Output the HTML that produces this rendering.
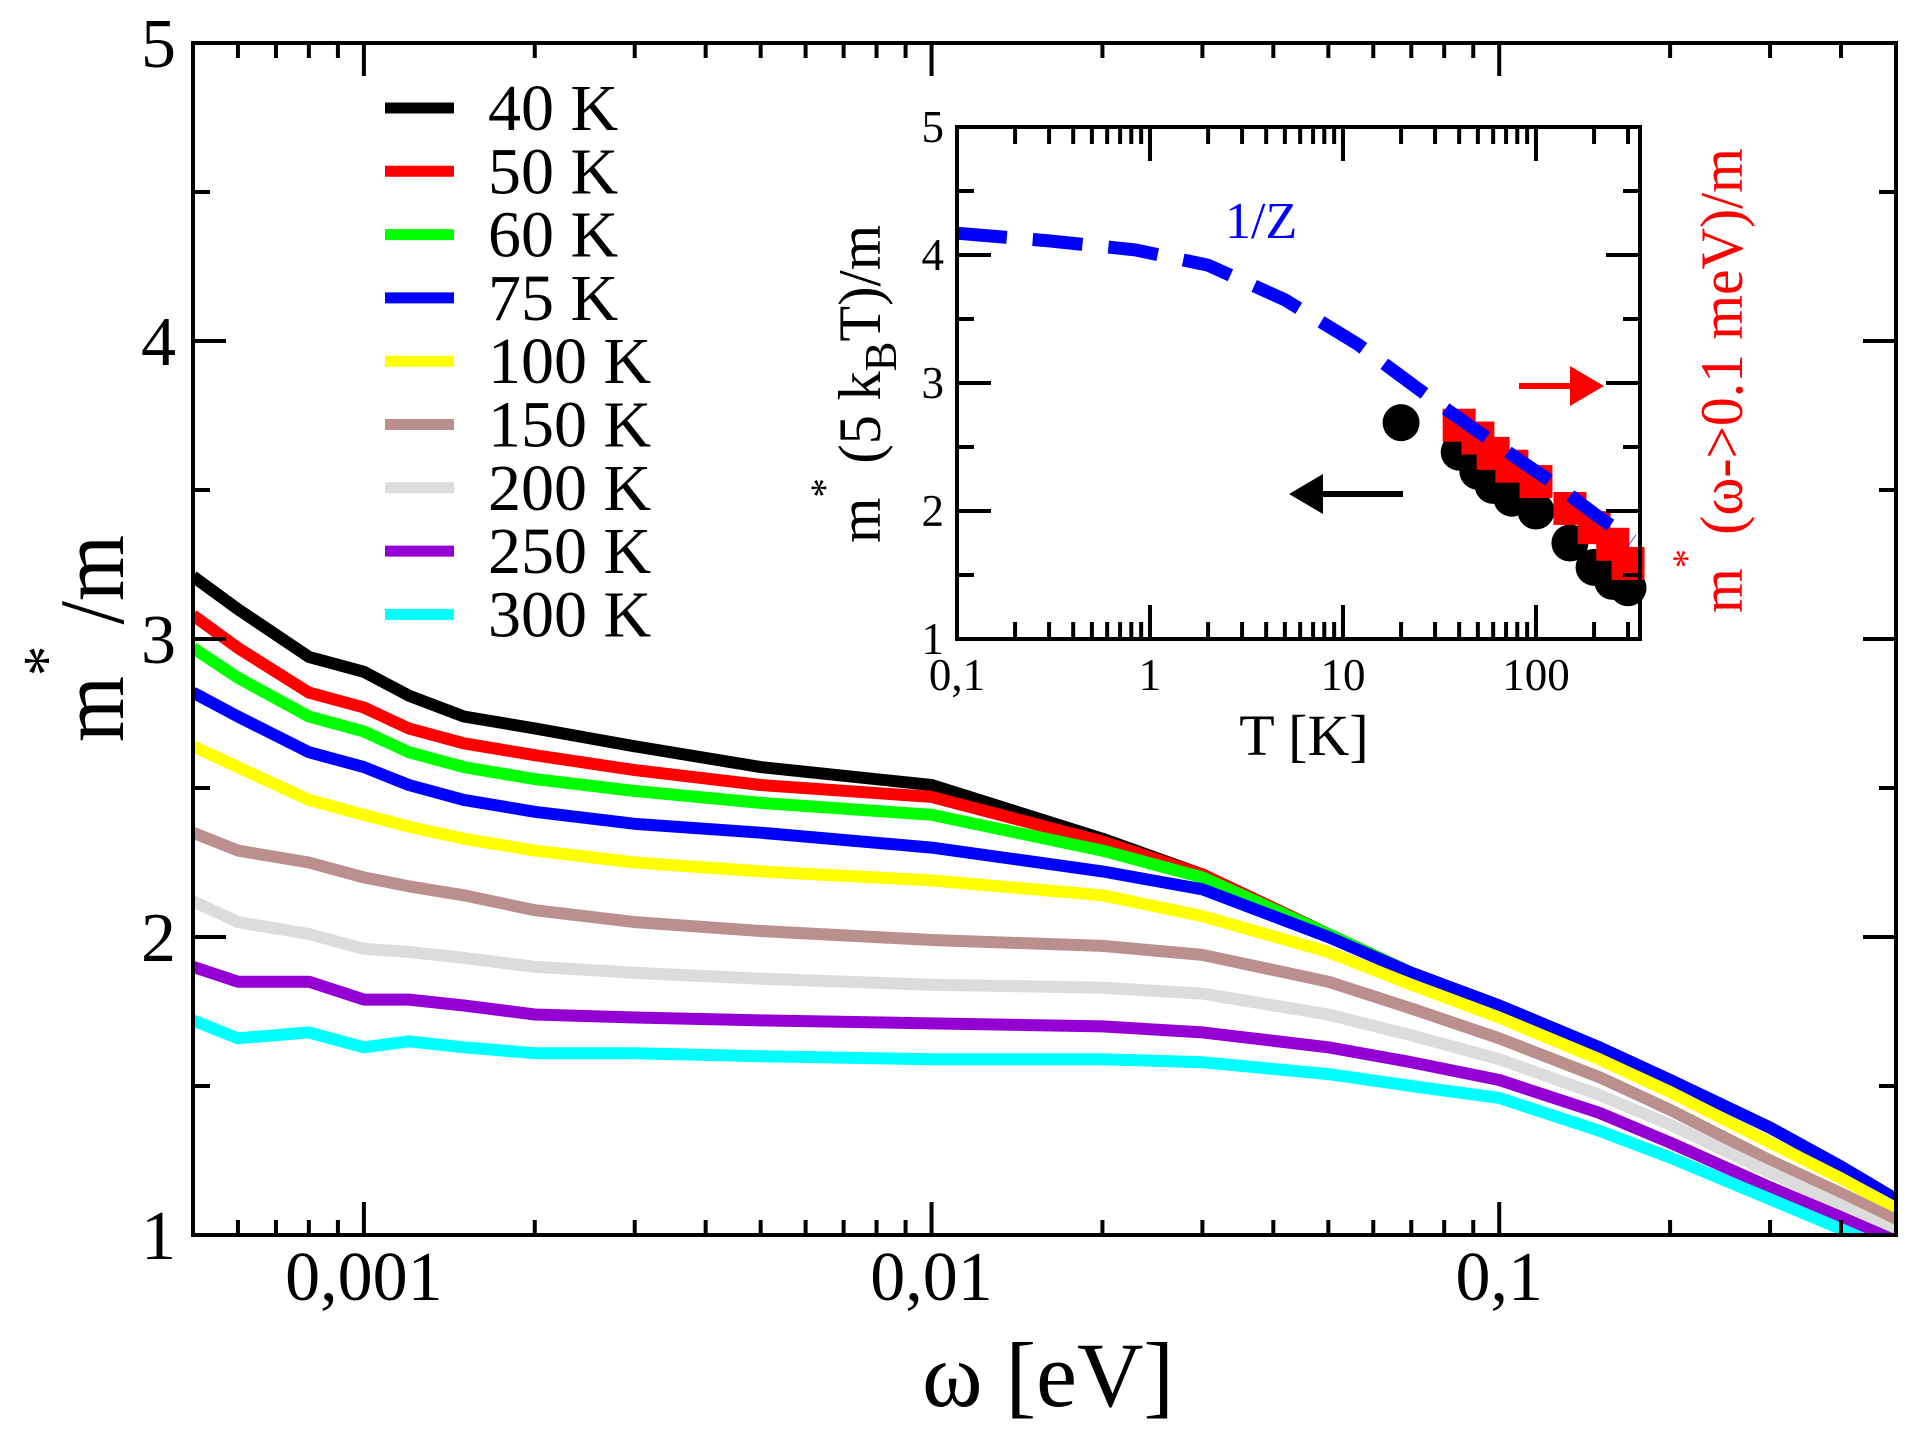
<!DOCTYPE html>
<html><head><meta charset="utf-8"><style>
html,body{margin:0;padding:0;background:#fff;}
svg{display:block;font-family:"Liberation Serif","DejaVu Serif",serif;}
</style></head><body>
<svg id="chart" width="1924" height="1433" viewBox="0 0 1924 1433" xmlns="http://www.w3.org/2000/svg">
<defs><clipPath id="mainClip"><rect x="193" y="43" width="1703" height="1192"/></clipPath></defs>
<g id="main"></g>
<g id="inset"></g>
<g id="legend"></g>
<text id="ylab" transform="translate(123,742) rotate(-90)" font-size="92"><tspan>m</tspan><tspan dy="-55" font-size="66">*</tspan><tspan dy="55"> /m</tspan></text>
<text x="1048" y="1406" font-size="92" text-anchor="middle">ω [eV]</text>
<text x="1304" y="755" font-size="58" text-anchor="middle">T [K]</text>
<text id="ilab" transform="translate(880,543) rotate(-90)" font-size="60"><tspan>m</tspan><tspan dy="-42" font-size="40">*</tspan><tspan dy="42"> (5 k</tspan><tspan dy="16" font-size="46">B</tspan><tspan dy="-16">T)/m</tspan></text>
<text id="rlab" transform="translate(1742,613) rotate(-90)" font-size="60" fill="#ff0000"><tspan>m</tspan><tspan dy="-42" font-size="40">*</tspan><tspan dy="42"> (ω-&gt;0.1 meV)/m</tspan></text>
<text x="1225" y="238" font-size="52" fill="#0000ff">1/Z</text>
<g><line x1="1403" y1="494" x2="1315" y2="494" stroke="#000" stroke-width="6"/><polygon points="1289,494 1323,474 1323,514" fill="#000"/></g>
<g><line x1="1519" y1="386" x2="1580" y2="386" stroke="#f00" stroke-width="6"/><polygon points="1604,386 1570,366 1570,406" fill="#f00"/></g>
</svg>
<script>
const omega = [0.0005,0.0006,0.0008,0.001,0.0012,0.0015,0.002,0.003,0.005,0.01,0.02,0.03,0.05,0.07,0.1,0.15,0.2,0.3,0.4,0.5];
const temps = ['40 K','50 K','60 K','75 K','100 K','150 K','200 K','250 K','300 K'];
const colors = ['#000000','#ff0000','#00ff00','#0000ff','#ffff00','#bc8f8f','#dcdcdc','#9400d3','#00ffff'];
const m40  = [3.21,3.10,2.94,2.89,2.81,2.74,2.70,2.64,2.57,2.51,2.33,2.21,2.01,1.88,1.77,1.63,1.52,1.36,1.23,1.12];
const m50  = [3.08,2.97,2.82,2.77,2.70,2.65,2.61,2.56,2.51,2.47,2.32,2.21,2.01,1.88,1.77,1.63,1.52,1.36,1.23,1.12];
const m60  = [2.97,2.87,2.74,2.69,2.62,2.57,2.53,2.49,2.45,2.41,2.29,2.20,2.01,1.88,1.77,1.63,1.52,1.36,1.23,1.12];
const m75  = [2.82,2.74,2.62,2.57,2.51,2.46,2.42,2.38,2.35,2.30,2.22,2.16,2.00,1.88,1.77,1.63,1.52,1.36,1.23,1.12];
const m100 = [2.64,2.57,2.46,2.41,2.37,2.33,2.29,2.25,2.22,2.19,2.14,2.07,1.95,1.84,1.73,1.59,1.48,1.31,1.19,1.09];
const m150 = [2.35,2.29,2.25,2.20,2.17,2.14,2.09,2.05,2.02,1.99,1.97,1.94,1.85,1.76,1.66,1.53,1.42,1.25,1.14,1.05];
const m200 = [2.12,2.05,2.01,1.96,1.95,1.93,1.90,1.88,1.86,1.84,1.83,1.81,1.74,1.67,1.59,1.47,1.37,1.21,1.10,1.01];
const m250 = [1.90,1.85,1.85,1.79,1.79,1.77,1.74,1.73,1.72,1.71,1.70,1.68,1.63,1.58,1.52,1.41,1.31,1.16,1.06,0.98];
const m300 = [1.72,1.66,1.68,1.63,1.65,1.63,1.61,1.61,1.60,1.59,1.59,1.58,1.54,1.50,1.46,1.35,1.26,1.12,1.02,0.94];
const series = [m40,m50,m60,m75,m100,m150,m200,m250,m300];
const xTickLabels = ['0,001','0,01','0,1'];
const xTickValues = [0.001,0.01,0.1];
const yTickValues = [1,2,3,4,5];

const insetT = [0.1,0.3,0.84,2,5,12,28,50,131,200,316];
const insetZ = [4.17,4.11,4.04,3.92,3.65,3.30,2.89,2.62,2.19,1.98,1.77];
const circT = [20,40,50,60,75,100,150,200,250,300];
const circM = [2.69,2.46,2.31,2.20,2.10,2.00,1.75,1.56,1.45,1.40];
const sqT = [40,50,60,75,100,150,200,250,300];
const sqM = [2.67,2.57,2.45,2.35,2.23,2.02,1.87,1.74,1.59];
const insetXTickLabels = ['0,1','1','10','100'];
const insetXTickValues = [0.1,1,10,100];
const insetYTickValues = [1,2,3,4,5];

const NS='http://www.w3.org/2000/svg';
function mk(tag, attrs, parent){const e=document.createElementNS(NS,tag);for(const k in attrs)e.setAttribute(k,attrs[k]);parent.appendChild(e);return e;}

// fit rotated labels to measured lengths
function fitLen(id,len){const el=document.getElementById(id);const w=el.getComputedTextLength?el.getBBox().width:0;if(w>0){const tr=el.getAttribute('transform');el.setAttribute('transform',tr+' scale('+(len/w).toFixed(3)+',1)');}}
fitLen('ilab',318);
fitLen('rlab',465);
fitLen('ylab',207);

// main axes
const X0=193,X1=1896,Y0=1235,Y1=43;
const xLo=Math.log10(0.0005),xHi=Math.log10(0.5);
function xs(v){return X0+(Math.log10(v)-xLo)/(xHi-xLo)*(X1-X0);}
function ys(v){return Y0-(v-1)/4*(Y0-Y1);}
const main=document.getElementById('main');
const curves=mk('g',{'clip-path':'url(#mainClip)'},main);


series.forEach((s,i)=>{
  const d=s.map((v,j)=>(j?'L':'M')+xs(omega[j]).toFixed(1)+' '+ys(v).toFixed(1)).join(' ');
  const p=mk('path',{d:d,fill:'none',stroke:colors[i],'stroke-width':12,'stroke-linejoin':'round'},curves);
  
  
});
const frame=mk('rect',{x:X0,y:Y1,width:X1-X0,height:Y0-Y1,fill:'none',stroke:'#000','stroke-width':4},main);


const ticks=mk('g',{stroke:'#000','stroke-width':4},main);


for(let e=-4;e<=-1;e++){for(let m=1;m<10;m++){const v=m*Math.pow(10,e);if(v<0.0005-1e-12||v>0.5+1e-9)continue;const x=xs(v);const L=m===1?33:15;
  mk('line',{x1:x,y1:Y0,x2:x,y2:Y0-L},ticks);mk('line',{x1:x,y1:Y1,x2:x,y2:Y1+L},ticks);}}
for(let v=1;v<=5;v+=0.5){const y=ys(v);const L=(v%1===0)?33:17;
  mk('line',{x1:X0,y1:y,x2:X0+L,y2:y},ticks);mk('line',{x1:X1,y1:y,x2:X1-L,y2:y},ticks);}
xTickValues.forEach((v,i)=>{const t=mk('text',{x:xs(v),y:1300,'font-size':70,'text-anchor':'middle'},main);t.textContent=xTickLabels[i];
  
  });
yTickValues.forEach(v=>{const t=mk('text',{x:176,y:ys(v)+24,'font-size':70,'text-anchor':'end'},main);t.textContent=String(v);
  
  });

// legend
const lg=document.getElementById('legend');
temps.forEach((t,i)=>{const y=108+i*63.3;
  const g=mk('g',{},lg);
  
  
  mk('line',{x1:385,y1:y,x2:454,y2:y,stroke:colors[i],'stroke-width':11},g);
  const tx=mk('text',{x:488,y:y+22,'font-size':66},g);tx.textContent=t;});

// inset
const IX0=957,IX1=1640,IY0=639,IY1=127;
const iLo=-1,iHi=Math.log10(346);
function ixs(v){return IX0+(Math.log10(v)-iLo)/(iHi-iLo)*(IX1-IX0);}
function iys(v){return IY0-(v-1)/4*(IY0-IY1);}
const inset=document.getElementById('inset');
mk('rect',{x:IX0,y:IY1,width:IX1-IX0,height:IY0-IY1,fill:'#fff',stroke:'none'},inset);
const zd=insetT.map((t,j)=>(j?'L':'M')+ixs(t).toFixed(1)+' '+iys(insetZ[j]).toFixed(1)).join(' ');
const circG=mk('g',{},inset);


circT.forEach((t,i)=>{const c=mk('circle',{cx:ixs(t),cy:iys(circM[i]),r:18.5,fill:'#000'},circG);
  
  });
const sqG=mk('g',{},inset);


sqT.forEach((t,i)=>{const r=mk('rect',{x:ixs(t)-16.5,y:iys(sqM[i])-16.5,width:33,height:33,fill:'#ff0000'},sqG);
  
  });
const zp=mk('path',{d:zd,fill:'none',stroke:'#0000ff','stroke-width':13,'stroke-dasharray':'50 26'},inset);


const iframe=mk('rect',{x:IX0,y:IY1,width:IX1-IX0,height:IY0-IY1,fill:'none',stroke:'#000','stroke-width':4},inset);


const it=mk('g',{stroke:'#000','stroke-width':4},inset);


for(let e=-1;e<=2;e++){for(let m=1;m<10;m++){const v=m*Math.pow(10,e);if(v>346)continue;const x=ixs(v);const L=m===1?34:17;
  mk('line',{x1:x,y1:IY0,x2:x,y2:IY0-L},it);mk('line',{x1:x,y1:IY1,x2:x,y2:IY1+L},it);}}
for(let v=1;v<=5;v+=0.5){const y=iys(v);const L=(v%1===0)?34:17;
  mk('line',{x1:IX0,y1:y,x2:IX0+L,y2:y},it);mk('line',{x1:IX1,y1:y,x2:IX1-L,y2:y},it);}
insetXTickValues.forEach((v,i)=>{const t=mk('text',{x:ixs(v),y:690,'font-size':45,'text-anchor':'middle'},inset);t.textContent=insetXTickLabels[i];
  
  });
insetYTickValues.forEach(v=>{const t=mk('text',{x:944,y:iys(v)+15,'font-size':45,'text-anchor':'end'},inset);t.textContent=String(v);
  
  });
</script>
</body></html>
